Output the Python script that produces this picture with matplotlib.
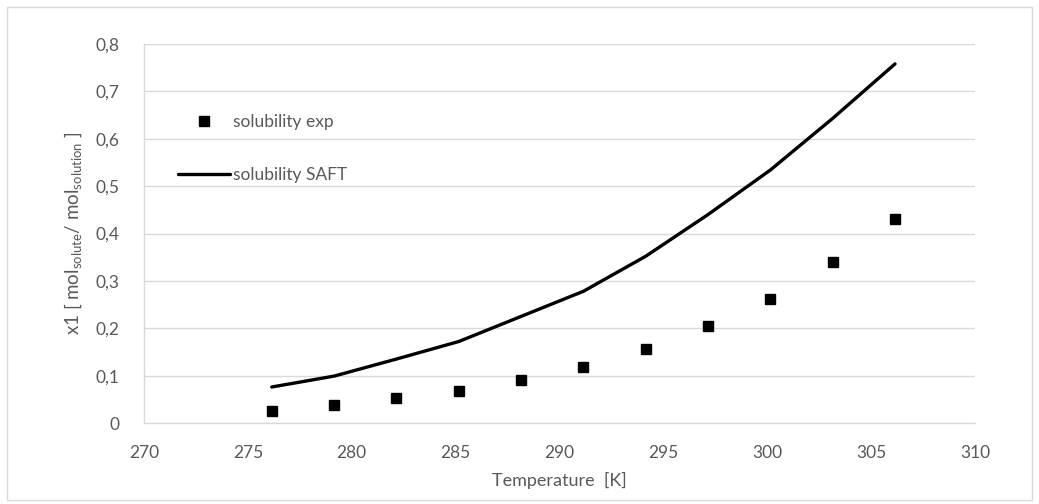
import matplotlib
matplotlib.use("Agg")
import matplotlib.pyplot as plt
from matplotlib.ticker import FuncFormatter
from matplotlib.patches import Rectangle

# Data
temperature = [276.15, 279.15, 282.15, 285.15, 288.15, 291.15, 294.15, 297.15, 300.15, 303.15, 306.15]
sol_exp = [0.025, 0.037, 0.053, 0.068, 0.090, 0.118, 0.157, 0.204, 0.262, 0.340, 0.430]
sol_saft = [0.076, 0.099, 0.135, 0.172, 0.225, 0.278, 0.352, 0.440, 0.534, 0.643, 0.758]
x_ticks = [270, 275, 280, 285, 290, 295, 300, 305, 310]
y_ticks = [0, 0.1, 0.2, 0.3, 0.4, 0.5, 0.6, 0.7, 0.8]

plt.rcParams['font.family'] = ['Lato', 'DejaVu Sans']
plt.rcParams['mathtext.fontset'] = 'custom'
plt.rcParams['mathtext.rm'] = 'Lato'

text_color = '#595959'
grid_color = '#d9d9d9'

fig = plt.figure(figsize=(10.39, 5.04), dpi=100)
ax = fig.add_axes([0.1386, 0.1607, 0.9384 - 0.1386, 0.9127 - 0.1607])

ax.plot(temperature, sol_exp, linestyle='none', marker='s', ms=7.5, color='black',
        label='solubility exp', zorder=3)
ax.plot(temperature, sol_saft, color='black', lw=2.4, label='solubility SAFT',
        solid_capstyle='round', zorder=3)

ax.set_xlim(270, 310)
ax.set_ylim(0, 0.8)
ax.set_xticks(x_ticks)
ax.set_yticks(y_ticks)
ax.yaxis.set_major_formatter(FuncFormatter(lambda v, p: ('%g' % round(v, 2)).replace('.', ',')))
ax.xaxis.set_major_formatter(FuncFormatter(lambda v, p: '%d' % v))
ax.tick_params(length=0, labelsize=12.5, colors=text_color)
ax.tick_params(axis='y', pad=18)
ax.tick_params(axis='x', pad=16)
ax.grid(axis='y', color=grid_color, lw=1)
ax.set_axisbelow(True)
for s in ['top', 'right']:
    ax.spines[s].set_visible(False)
for s in ['left', 'bottom']:
    ax.spines[s].set_color(grid_color)
    ax.spines[s].set_linewidth(1)

ax.set_xlabel('Temperature  [K]', fontsize=13, color=text_color, labelpad=8)
ax.set_ylabel(r'x1 [ mol$_{\mathregular{solute}}$/ mol$_{\mathregular{solution}}$ ]',
              fontsize=13.5, color=text_color, labelpad=8)

leg = ax.legend(loc='upper left', bbox_to_anchor=(0.030, 0.838), frameon=False,
                fontsize=12.5, handlelength=3.0, handletextpad=0.2, labelspacing=2.15,
                borderpad=0)
for t in leg.get_texts():
    t.set_color(text_color)

fig.patches.append(Rectangle((0.007, 0.008), 0.986, 0.978, transform=fig.transFigure,
                             fill=False, edgecolor='#d9d9d9', lw=1))

fig.savefig('out.png', dpi=100)
